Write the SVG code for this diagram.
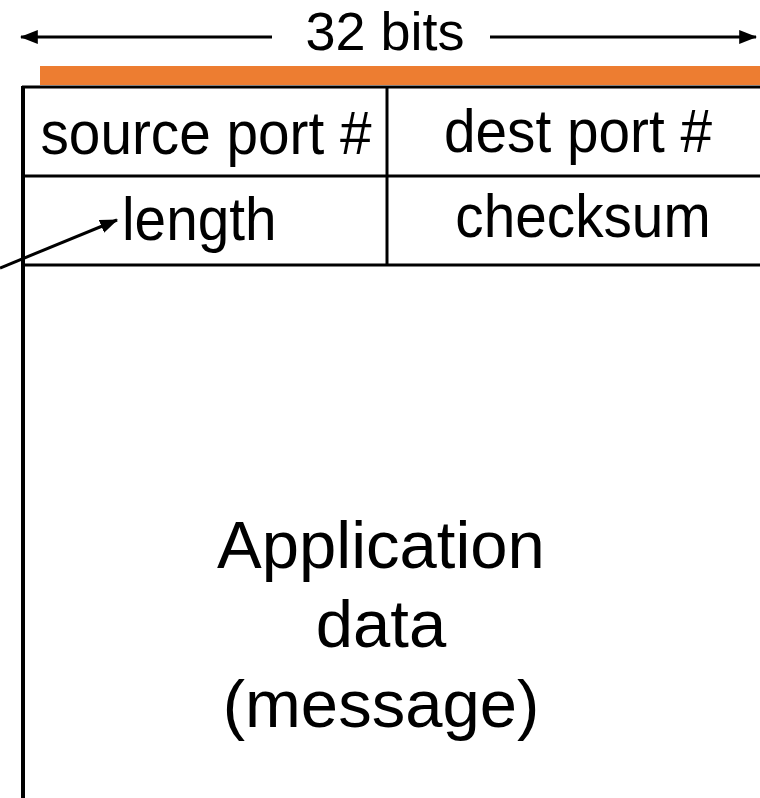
<svg xmlns="http://www.w3.org/2000/svg" width="760" height="798" viewBox="0 0 760 798">
<defs>
<style>
text{font-family:"Liberation Sans",Arial,sans-serif;fill:#000}
.f{font-size:61px}
.t{font-size:54px}
.a{font-size:67px}
.ln{stroke:#000;stroke-width:3;fill:none}
.ar{stroke:#000;stroke-width:3;fill:none}
</style>
<marker id="ah" markerWidth="6" markerHeight="4.6" refX="5.6" refY="2.3" orient="auto" markerUnits="strokeWidth">
<path d="M0,0 L6,2.3 L0,4.6 Z" fill="#000"/>
</marker>
</defs>
<rect width="760" height="798" fill="#fff"/>
<g id="header">
<rect x="40" y="66" width="720" height="19" fill="#ED7D31"/>
<text class="t" x="385" y="50" text-anchor="middle">32 bits</text>
</g>
<g id="table">
<line class="ln" x1="22" y1="87" x2="760" y2="87"/>
<line class="ln" x1="22" y1="176" x2="760" y2="176"/>
<line class="ln" x1="22" y1="265" x2="760" y2="265"/>
<line class="ln" x1="387" y1="87" x2="387" y2="265"/>
<line x1="23" y1="86" x2="23" y2="798" stroke="#000" stroke-width="4"/>
</g>
<g id="source-port"><text class="f" transform="translate(206,154) scale(0.93,1)" text-anchor="middle">source port #</text></g>
<g id="dest-port"><text class="f" transform="translate(578,152) scale(0.93,1)" text-anchor="middle">dest port #</text></g>
<g id="length"><text class="f" transform="translate(122,240) scale(0.93,1)">length</text></g>
<g id="checksum"><text class="f" transform="translate(583,237) scale(0.93,1)" text-anchor="middle">checksum</text></g>
<g id="data">
<text class="a" x="381" y="568" text-anchor="middle">Application</text>
<text class="a" x="381" y="647" text-anchor="middle">data</text>
<text class="a" x="381" y="727" text-anchor="middle">(message)</text>
</g>
<g id="connectors">
<line class="ar" x1="272" y1="37" x2="21" y2="37" marker-end="url(#ah)"/>
<line class="ar" x1="490" y1="37" x2="756" y2="37" marker-end="url(#ah)"/>
<line class="ar" x1="0" y1="268" x2="117" y2="220" marker-end="url(#ah)"/>
</g>
</svg>
